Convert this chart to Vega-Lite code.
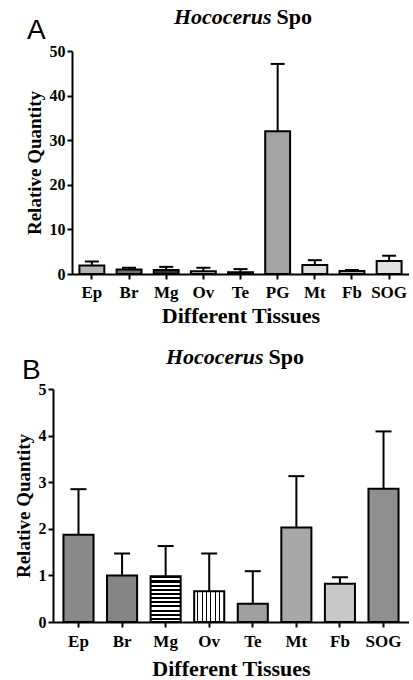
{
  "$schema": "https://vega.github.io/schema/vega-lite/v6.json",
  "background": "white",
  "padding": {"left": 14, "top": 6, "right": 0, "bottom": 0},
  "align": "none",
  "spacing": 20,
  "resolve": {"scale": {"fill": "independent"}},
  "config": {
    "view": {"stroke": null},
    "axis": {
      "domainColor": "black", "domainWidth": 2, "tickColor": "black", "tickWidth": 2, "tickSize": 5,
      "labelFont": "Liberation Serif", "labelFontWeight": "bold", "labelColor": "black",
      "titleFont": "Liberation Serif", "titleFontWeight": "bold", "titleColor": "black",
      "grid": false
    }
  },
  "vconcat": [
    {
      "title": {"text": "A", "font": "Liberation Sans", "fontSize": 28, "fontWeight": "normal", "color": "black", "anchor": "start", "dy": 39, "dx": 2, "offset": 0},
      "vconcat": [
        {
          "width": 356, "height": 223,
          "title": {
            "text": "Hococerus\u00a0\u00a0\u00a0\u00a0\u00a0\u00a0\u00a0\u200b",
            "subtitle": "\u200b\u00a0\u00a0\u00a0\u00a0\u00a0\u00a0\u00a0\u00a0\u00a0\u00a0\u00a0\u00a0\u00a0\u00a0\u00a0\u00a0\u00a0\u00a0\u00a0Spo",
            "font": "Liberation Serif", "fontSize": 22, "fontWeight": "bold", "fontStyle": "italic", "color": "black",
            "subtitleFont": "Liberation Serif", "subtitleFontSize": 22, "subtitleFontWeight": "bold", "subtitleFontStyle": "normal", "subtitleColor": "black",
            "subtitlePadding": -22, "anchor": "middle", "offset": 14, "dx": 11
          },
          "data": {"values": [
            {"tissue": "Ep", "value": 1.9, "upper": 2.8},
            {"tissue": "Br", "value": 1.0, "upper": 1.4},
            {"tissue": "Mg", "value": 0.9, "upper": 1.6},
            {"tissue": "Ov", "value": 0.6, "upper": 1.4},
            {"tissue": "Te", "value": 0.4, "upper": 1.1},
            {"tissue": "PG", "value": 32.0, "upper": 47.1},
            {"tissue": "Mt", "value": 2.0, "upper": 3.1},
            {"tissue": "Fb", "value": 0.7, "upper": 0.9},
            {"tissue": "SOG", "value": 2.9, "upper": 4.1}
          ]},
          "encoding": {
            "x": {"field": "tissue", "type": "nominal", "sort": null,
              "scale": {"range": [19, 356], "paddingInner": 0.33, "paddingOuter": 0.2},
              "axis": {"title": "Different Tissues", "labelAngle": 0, "labelFontSize": 17, "titleFontSize": 22, "labelPadding": 5, "titlePadding": 5}}
          },
          "layer": [
            {
              "mark": {"type": "bar", "stroke": "black", "strokeWidth": 2},
              "encoding": {
                "y": {"field": "value", "type": "quantitative", "title": "Relative Quantity",
                  "scale": {"domain": [0, 50], "nice": false},
                  "axis": {"values": [0, 10, 20, 30, 40, 50], "labelFontSize": 16, "titleFontSize": 19, "labelPadding": 2, "titlePadding": 5, "offset": -19}},
                "fill": {"field": "tissue", "type": "nominal", "legend": null,
                  "scale": {"domain": ["Ep", "Br", "Mg", "Ov", "Te", "PG", "Mt", "Fb", "SOG"],
                    "range": ["#b5b5b5", "#707070", "#303030", "#cfcfcf", "#999999", "#a3a3a3", "#dedede", "#b8b8b8", "#e2e2e2"]}}
              }
            },
            {
              "mark": {"type": "rule", "color": "black", "strokeWidth": 2},
              "encoding": {
                "y": {"field": "value", "type": "quantitative", "title": "Relative Quantity"},
                "y2": {"field": "upper"}
              }
            },
            {
              "mark": {"type": "tick", "color": "black", "thickness": 2, "size": 14, "orient": "horizontal", "opacity": 1},
              "encoding": {
                "y": {"field": "upper", "type": "quantitative", "title": "Relative Quantity"}
              }
            }
          ]
        }
      ]
    },
    {
      "title": {"text": "B", "font": "Liberation Sans", "fontSize": 28, "fontWeight": "normal", "color": "black", "anchor": "start", "dy": 39, "dx": 8, "offset": 0},
      "vconcat": [
        {
          "width": 356, "height": 233,
          "title": {
            "text": "Hococerus\u00a0\u00a0\u00a0\u00a0\u00a0\u00a0\u00a0\u200b",
            "subtitle": "\u200b\u00a0\u00a0\u00a0\u00a0\u00a0\u00a0\u00a0\u00a0\u00a0\u00a0\u00a0\u00a0\u00a0\u00a0\u00a0\u00a0\u00a0\u00a0\u00a0Spo",
            "font": "Liberation Serif", "fontSize": 22, "fontWeight": "bold", "fontStyle": "italic", "color": "black",
            "subtitleFont": "Liberation Serif", "subtitleFontSize": 22, "subtitleFontWeight": "bold", "subtitleFontStyle": "normal", "subtitleColor": "black",
            "subtitlePadding": -22, "anchor": "middle", "offset": 12, "dx": 3
          },
          "data": {"values": [
            {"tissue": "Ep", "value": 1.87, "upper": 2.85},
            {"tissue": "Br", "value": 1.0, "upper": 1.47},
            {"tissue": "Mg", "value": 0.98, "upper": 1.63},
            {"tissue": "Ov", "value": 0.66, "upper": 1.47},
            {"tissue": "Te", "value": 0.39, "upper": 1.09},
            {"tissue": "Mt", "value": 2.03, "upper": 3.13},
            {"tissue": "Fb", "value": 0.82, "upper": 0.96},
            {"tissue": "SOG", "value": 2.86, "upper": 4.09}
          ]},
          "encoding": {
            "x": {"field": "tissue", "type": "nominal", "sort": null,
              "scale": {"paddingInner": 0.31, "paddingOuter": 0.24},
              "axis": {"title": "Different Tissues", "labelAngle": 0, "labelFontSize": 17, "titleFontSize": 22, "labelPadding": 6, "titlePadding": 9}}
          },
          "layer": [
            {
              "mark": {"type": "bar", "stroke": "black", "strokeWidth": 2},
              "encoding": {
                "y": {"field": "value", "type": "quantitative", "title": "Relative Quantity",
                  "scale": {"domain": [0, 5], "nice": false},
                  "axis": {"values": [0, 1, 2, 3, 4, 5], "labelFontSize": 16, "titleFontSize": 19, "labelPadding": 2, "titlePadding": 5}},
                "fill": {
                  "condition": [
                    {"test": "datum.tissue === 'Mg'", "value": {"gradient": "linear", "x1": 0, "y1": 0, "x2": 0, "y2": 1, "stops": [
                      {"offset": 0, "color": "black"}, {"offset": 0.045, "color": "black"}, {"offset": 0.045, "color": "white"}, {"offset": 0.0909, "color": "white"},
                      {"offset": 0.0909, "color": "black"}, {"offset": 0.136, "color": "black"}, {"offset": 0.136, "color": "white"}, {"offset": 0.1818, "color": "white"},
                      {"offset": 0.1818, "color": "black"}, {"offset": 0.227, "color": "black"}, {"offset": 0.227, "color": "white"}, {"offset": 0.2727, "color": "white"},
                      {"offset": 0.2727, "color": "black"}, {"offset": 0.318, "color": "black"}, {"offset": 0.318, "color": "white"}, {"offset": 0.3636, "color": "white"},
                      {"offset": 0.3636, "color": "black"}, {"offset": 0.409, "color": "black"}, {"offset": 0.409, "color": "white"}, {"offset": 0.4545, "color": "white"},
                      {"offset": 0.4545, "color": "black"}, {"offset": 0.5, "color": "black"}, {"offset": 0.5, "color": "white"}, {"offset": 0.5455, "color": "white"},
                      {"offset": 0.5455, "color": "black"}, {"offset": 0.591, "color": "black"}, {"offset": 0.591, "color": "white"}, {"offset": 0.6364, "color": "white"},
                      {"offset": 0.6364, "color": "black"}, {"offset": 0.682, "color": "black"}, {"offset": 0.682, "color": "white"}, {"offset": 0.7273, "color": "white"},
                      {"offset": 0.7273, "color": "black"}, {"offset": 0.773, "color": "black"}, {"offset": 0.773, "color": "white"}, {"offset": 0.8182, "color": "white"},
                      {"offset": 0.8182, "color": "black"}, {"offset": 0.864, "color": "black"}, {"offset": 0.864, "color": "white"}, {"offset": 0.9091, "color": "white"},
                      {"offset": 0.9091, "color": "black"}, {"offset": 0.955, "color": "black"}, {"offset": 0.955, "color": "white"}, {"offset": 1, "color": "white"}
                    ]}},
                    {"test": "datum.tissue === 'Ov'", "value": {"gradient": "linear", "x1": 0, "y1": 0, "x2": 1, "y2": 0, "stops": [
                      {"offset": 0, "color": "white"}, {"offset": 0.107, "color": "white"}, {"offset": 0.107, "color": "black"}, {"offset": 0.143, "color": "black"}, {"offset": 0.143, "color": "white"},
                      {"offset": 0.25, "color": "white"}, {"offset": 0.25, "color": "black"}, {"offset": 0.286, "color": "black"}, {"offset": 0.286, "color": "white"},
                      {"offset": 0.393, "color": "white"}, {"offset": 0.393, "color": "black"}, {"offset": 0.429, "color": "black"}, {"offset": 0.429, "color": "white"},
                      {"offset": 0.536, "color": "white"}, {"offset": 0.536, "color": "black"}, {"offset": 0.571, "color": "black"}, {"offset": 0.571, "color": "white"},
                      {"offset": 0.679, "color": "white"}, {"offset": 0.679, "color": "black"}, {"offset": 0.714, "color": "black"}, {"offset": 0.714, "color": "white"},
                      {"offset": 0.821, "color": "white"}, {"offset": 0.821, "color": "black"}, {"offset": 0.857, "color": "black"}, {"offset": 0.857, "color": "white"},
                      {"offset": 1, "color": "white"}
                    ]}}
                  ],
                  "field": "tissue", "type": "nominal", "legend": null,
                  "scale": {"domain": ["Ep", "Br", "Mg", "Ov", "Te", "Mt", "Fb", "SOG"],
                    "range": ["#8a8a8a", "#858585", "#404040", "#d0d0d0", "#a0a0a0", "#a8a8a8", "#c8c8c8", "#8f8f8f"]}
                }
              }
            },
            {
              "mark": {"type": "rule", "color": "black", "strokeWidth": 2},
              "encoding": {
                "y": {"field": "value", "type": "quantitative", "title": "Relative Quantity"},
                "y2": {"field": "upper"}
              }
            },
            {
              "mark": {"type": "tick", "color": "black", "thickness": 2, "size": 16, "orient": "horizontal", "opacity": 1},
              "encoding": {
                "y": {"field": "upper", "type": "quantitative", "title": "Relative Quantity"}
              }
            }
          ]
        }
      ]
    }
  ]
}
